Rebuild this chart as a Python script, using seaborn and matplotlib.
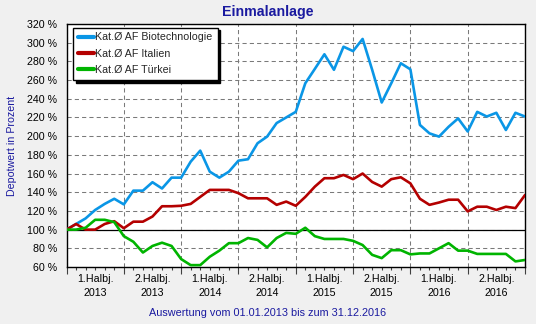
import numpy as np
import pandas as pd
import matplotlib
matplotlib.use("Agg")
import matplotlib.pyplot as plt
import seaborn as sns
from matplotlib.ticker import FixedLocator, NullFormatter
from matplotlib.transforms import blended_transform_factory

# ---- data (monthly, Jan 2013 .. Jan 2017, values in %) ----
months = list(range(49))
biotech = [100, 106, 112, 121, 127.5, 133, 127, 141.7, 141.7, 150.7, 144, 155.6, 155.6,
           172.7, 184.5, 162, 155.6, 162, 173.8, 175.3, 192.4, 199.5, 214, 220, 226,
           256.6, 272, 287.6, 271, 295.7, 291, 304, 271, 236, 256.6, 278, 271.5,
           212, 203, 199.5, 210, 219, 205, 226, 221, 225, 206.6, 225, 221]
italien = [100, 106, 100, 100, 106, 109, 101.5, 108.5, 108.5, 114, 125, 125, 125.5,
           127.5, 135, 142.5, 142.5, 142.5, 139, 133.5, 133.5, 133.5, 126.5, 130, 125.5,
           135, 146, 155, 155, 158.5, 154, 160, 151, 146, 154, 156, 149.5,
           133, 126.5, 129, 132, 132, 119.5, 124.5, 124.5, 121, 124.5, 123, 137]
tuerkei = [100, 100, 102, 110.5, 110.5, 108, 93, 87, 75.5, 82.5, 86, 82.5, 68.5,
           62, 62, 71, 77.5, 85.5, 85.5, 91, 89, 81, 91, 96.5, 95.5,
           102, 93, 90, 90, 90, 88, 83.5, 73, 69.5, 78, 78, 73.5,
           74.5, 74.5, 80, 85.5, 77.5, 77.5, 74, 74, 74, 74, 66, 67.5]
series_names = ["Kat.Ø AF Biotechnologie", "Kat.Ø AF Italien", "Kat.Ø AF Türkei"]
series_colors = ["#0a96e6", "#b40000", "#00b400"]
half_year_labels = ["1.Halbj.\n2013", "2.Halbj.\n2013", "1.Halbj.\n2014", "2.Halbj.\n2014",
                    "1.Halbj.\n2015", "2.Halbj.\n2015", "1.Halbj.\n2016", "2.Halbj.\n2016"]
y_ticks = list(range(60, 321, 20))
title_text = "Einmalanlage"
y_label = "Depotwert in Prozent"
x_label = "Auswertung vom 01.01.2013 bis zum 31.12.2016"

df = pd.DataFrame({"Monat": months, series_names[0]: biotech,
                   series_names[1]: italien, series_names[2]: tuerkei})
long_df = df.melt(id_vars="Monat", var_name="Serie", value_name="Wert")

sns.set_theme(style="white")
plt.rcParams["font.family"] = ["Liberation Sans", "DejaVu Sans"]

W, H = 536, 324
fig = plt.figure(figsize=(W / 100, H / 100), dpi=100, facecolor="#f0f0f0")
left, right, top, bottom = 66.5, 525, 24, 267
ax = fig.add_axes([left / W, 1 - bottom / H, (right - left) / W, (bottom - top) / H])
ax.set_facecolor("white")

navy = "#1a1aa0"
sns.lineplot(data=long_df, x="Monat", y="Wert", hue="Serie", palette=series_colors,
             linewidth=1.9, ax=ax, zorder=3)

ax.set_xlim(0, 48)
ax.set_ylim(60, 320)
ax.axhline(100, color="black", linewidth=0.9, zorder=2)

# grid
ax.set_yticks(y_ticks)
ax.set_yticklabels([f"{v} %" for v in y_ticks])
ax.xaxis.set_major_locator(FixedLocator(list(range(0, 49, 6))))
ax.xaxis.set_minor_locator(FixedLocator(months))
ax.xaxis.set_major_formatter(NullFormatter())
ax.grid(True, which="major", color="#7a7a7a", linestyle=(0, (4, 3)), linewidth=0.75, zorder=1)
ax.tick_params(axis="y", length=0, pad=7, labelsize=7.7, colors="black")
ax.tick_params(axis="x", which="major", length=5, width=0.8, direction="out", bottom=True, color="#404040")
ax.tick_params(axis="x", which="minor", length=2.5, width=0.8, direction="out", bottom=True, color="#404040")
for s in ax.spines.values():
    s.set_color("black")
    s.set_linewidth(1.0)

trans = blended_transform_factory(ax.transData, ax.transAxes)
for i, lab in enumerate(half_year_labels):
    ax.text(3 + 6 * i, -19 / 243, lab, transform=trans, ha="center", va="center",
            fontsize=7.7, linespacing=1.45, color="black")

ax.set_xlabel("")
ax.set_ylabel("")
fig.text(268 / W, 1 - 12 / H, title_text, ha="center", va="center", fontsize=10.2,
         fontweight="bold", color=navy)
fig.text(12 / W, 1 - 145.5 / H, y_label, ha="center", va="center", rotation=90,
         fontsize=7.7, color=navy)
fig.text(268 / W, 1 - 313 / H, x_label, ha="center", va="center", fontsize=7.8, color=navy)

# legend
handles, labels = ax.get_legend_handles_labels()
for h in handles:
    h.set_linewidth(3.0)
    h.set_solid_capstyle("round")
leg = ax.legend(handles, labels, loc="upper left",
                bbox_to_anchor=(73 / W, 1 - 27.5 / H), bbox_transform=fig.transFigure,
                fontsize=7.7, frameon=True, fancybox=False, edgecolor="black",
                shadow={"color": "black", "alpha": 1.0}, framealpha=1.0,
                handlelength=1.5, handletextpad=0.15, labelspacing=0.6,
                borderpad=0.45, borderaxespad=0)
leg.get_frame().set_linewidth(1.0)
leg.set_zorder(5)

fig.savefig("out.png", dpi=100, facecolor=fig.get_facecolor())
